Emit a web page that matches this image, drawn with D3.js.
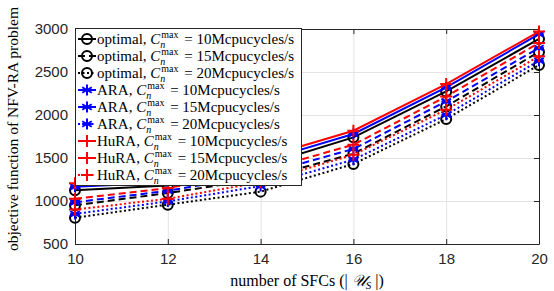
<!DOCTYPE html>
<html>
<head>
<meta charset="utf-8">
<script src="https://cdn.jsdelivr.net/npm/d3@7"></script>
<style>
  body { margin: 0; background: #fff; }
  svg { display: block; }
</style>
</head>
<body>
<div id="container"></div>
<script>
var w = 554,
  h = 291;

// number of SFCs
var sfcs = [10, 12, 14, 16, 18, 20];
var xTicks = [10, 12, 14, 16, 18, 20];
var yTicks = [500, 1000, 1500, 2000, 2500, 3000];

// objective values
var opt10 = [1125, 1180, 1407, 1740, 2274, 2884];
var opt15 = [950, 1093, 1256, 1550, 2100, 2733];
var opt20 = [805, 957, 1109, 1430, 1953, 2581];
var ara10 = [1165, 1215, 1458, 1779, 2321, 2940];
var ara15 = [985, 1119, 1305, 1605, 2158, 2779];
var ara20 = [850, 995, 1173, 1480, 2003, 2631];
var hura10 = [1205, 1250, 1498, 1817, 2360, 2970];
var hura15 = [1025, 1150, 1347, 1655, 2216, 2837];
var hura20 = [900, 1026, 1219, 1538, 2062, 2682];

var series = [
  { name: 'optimal', cap: '10', vals: opt10, color: '#000', dash: null, mark: 'o' },
  { name: 'optimal', cap: '15', vals: opt15, color: '#000', dash: '7,4', mark: 'o' },
  { name: 'optimal', cap: '20', vals: opt20, color: '#000', dash: '2,2.5', mark: 'o' },
  { name: 'ARA', cap: '10', vals: ara10, color: '#0000ff', dash: null, mark: '*' },
  { name: 'ARA', cap: '15', vals: ara15, color: '#0000ff', dash: '7,4', mark: '*' },
  { name: 'ARA', cap: '20', vals: ara20, color: '#0000ff', dash: '2,2.5', mark: '*' },
  { name: 'HuRA', cap: '10', vals: hura10, color: '#ff0000', dash: null, mark: '+' },
  { name: 'HuRA', cap: '15', vals: hura15, color: '#ff0000', dash: '7,4', mark: '+' },
  { name: 'HuRA', cap: '20', vals: hura20, color: '#ff0000', dash: '2,2.5', mark: '+' }
];

var pLeft = 75, pRight = 539, pTop = 29, pBottom = 244;

var svg = d3.select('#container').append('svg')
  .attr('width', w)
  .attr('height', h);

var x = d3.scaleLinear().domain([10, 20]).range([pLeft, pRight]);
var y = d3.scaleLinear().domain([500, 3000]).range([pBottom, pTop]);

// grid
svg.append('g').selectAll('line')
  .data(xTicks.slice(1, -1))
  .enter().append('line')
  .attr('x1', d => x(d) + 0.5).attr('x2', d => x(d) + 0.5)
  .attr('y1', pTop).attr('y2', pBottom)
  .attr('stroke', '#e3e3e3').attr('stroke-width', 1);
svg.append('g').selectAll('line')
  .data(yTicks.slice(1, -1))
  .enter().append('line')
  .attr('x1', pLeft).attr('x2', pRight)
  .attr('y1', d => y(d) + 0.5).attr('y2', d => y(d) + 0.5)
  .attr('stroke', '#e3e3e3').attr('stroke-width', 1);

// axes (matlab style: ticks inside, box)
function styleAxis(g, labels) {
  g.select('.domain').attr('stroke', '#262626').attr('stroke-width', 1);
  g.selectAll('.tick line').attr('stroke', '#262626');
  g.selectAll('.tick text')
    .attr('fill', '#262626')
    .style('font-family', '"Liberation Sans", Arial, sans-serif')
    .style('font-size', '15px');
  if (!labels) g.selectAll('.tick text').remove();
}

svg.append('g')
  .attr('transform', 'translate(0,' + pBottom + ')')
  .call(d3.axisBottom(x).tickValues(xTicks).tickSizeInner(-5).tickSizeOuter(0).tickPadding(9).tickFormat(d3.format('d')))
  .call(g => styleAxis(g, true));
svg.append('g')
  .attr('transform', 'translate(0,' + pTop + ')')
  .call(d3.axisTop(x).tickValues(xTicks).tickSizeInner(-5).tickSizeOuter(0))
  .call(g => styleAxis(g, false));
svg.append('g')
  .attr('transform', 'translate(' + pLeft + ',0)')
  .call(d3.axisLeft(y).tickValues(yTicks).tickSizeInner(-5).tickSizeOuter(0).tickPadding(7).tickFormat(d3.format('d')))
  .call(g => styleAxis(g, true));
svg.append('g')
  .attr('transform', 'translate(' + pRight + ',0)')
  .call(d3.axisRight(y).tickValues(yTicks).tickSizeInner(-5).tickSizeOuter(0))
  .call(g => styleAxis(g, false));

// markers
function drawMarker(g, type, color, cx, cy) {
  if (type === 'o') {
    g.append('circle').attr('cx', cx).attr('cy', cy).attr('r', 5)
      .attr('fill', 'none').attr('stroke', color).attr('stroke-width', 2);
  } else if (type === '+') {
    g.append('path').attr('d', 'M' + (cx - 6) + ',' + cy + 'h12M' + cx + ',' + (cy - 6) + 'v12')
      .attr('stroke', color).attr('stroke-width', 2).attr('fill', 'none');
  } else {
    var r = 5.5, p = '';
    [0, 60, 120].forEach(function (a) {
      var t = (a + 90) * Math.PI / 180;
      p += 'M' + (cx - r * Math.cos(t)) + ',' + (cy - r * Math.sin(t)) + 'L' + (cx + r * Math.cos(t)) + ',' + (cy + r * Math.sin(t));
    });
    p += 'M' + (cx - r * 0.87) + ',' + cy + 'h' + (r * 1.74);
    g.append('path').attr('d', p).attr('stroke', color).attr('stroke-width', 2).attr('fill', 'none');
  }
}

var line = d3.line()
  .x((d, i) => x(sfcs[i]))
  .y(d => y(d));

var plot = svg.append('g');
series.forEach(function (s) {
  var g = plot.append('g');
  g.append('path')
    .datum(s.vals)
    .attr('d', line)
    .attr('fill', 'none')
    .attr('stroke', s.color)
    .attr('stroke-width', 2)
    .attr('stroke-dasharray', s.dash);
  s.vals.forEach(function (v, i) {
    drawMarker(g, s.mark, s.color, x(sfcs[i]), y(v));
  });
});

// legend
var lx = 75, ly = 28, lw = 226, lh = 157, step = 17;
var leg = svg.append('g');
leg.append('rect')
  .attr('x', lx + 0.5).attr('y', ly + 0.5)
  .attr('width', lw).attr('height', lh)
  .attr('fill', '#fff').attr('stroke', '#262626').attr('stroke-width', 1);

var serif = '"Liberation Serif", "DejaVu Serif", serif';

// width of the "max" superscript, used to step back for the subscript
var probe = svg.append('text').style('font-family', serif).style('font-size', '10px').text('max');
var maxW = probe.node().getComputedTextLength();
probe.remove();

series.forEach(function (s, i) {
  var cy = ly + 11 + i * step;
  var g = leg.append('g');
  g.append('line')
    .attr('x1', lx + 3).attr('x2', lx + 21)
    .attr('y1', cy).attr('y2', cy)
    .attr('stroke', s.color).attr('stroke-width', 2)
    .attr('stroke-dasharray', s.dash);
  drawMarker(g, s.mark, s.color, lx + 12, cy);

  var t = g.append('text').attr('x', lx + 22).attr('y', cy + 5)
    .style('font-family', serif).style('font-size', '15px').attr('fill', '#000');
  t.append('tspan').text(s.name + ', ');
  t.append('tspan').style('font-style', 'italic').text('C');
  t.append('tspan').attr('dx', 1).attr('dy', -6.5).style('font-size', '10px').text('max');
  t.append('tspan').attr('dx', -maxW - 1).attr('dy', 10).style('font-size', '10px').style('font-style', 'italic').text('n');
  t.append('tspan').attr('dx', maxW - 2).attr('dy', -3.5).text(' = ' + s.cap + 'Mcpucycles/s');
});

// axis titles
var xl = svg.append('text')
  .attr('x', (pLeft + pRight) / 2).attr('y', 286)
  .attr('text-anchor', 'middle')
  .style('font-family', serif).style('font-size', '16px').attr('fill', '#000');
xl.append('tspan').text('number of SFCs (| ');
xl.append('tspan').style('font-style', 'italic').text('\u{1D4B0}');
xl.append('tspan').attr('dy', 3).style('font-size', '11px').style('font-style', 'italic').text('S');
xl.append('tspan').attr('dy', -3).text(' |)');

svg.append('text')
  .attr('transform', 'translate(18,129) rotate(-90)')
  .attr('text-anchor', 'middle')
  .style('font-family', serif).style('font-size', '15.5px').attr('fill', '#000')
  .text('objective function of NFV-RA problem');
</script>
</body>
</html>
